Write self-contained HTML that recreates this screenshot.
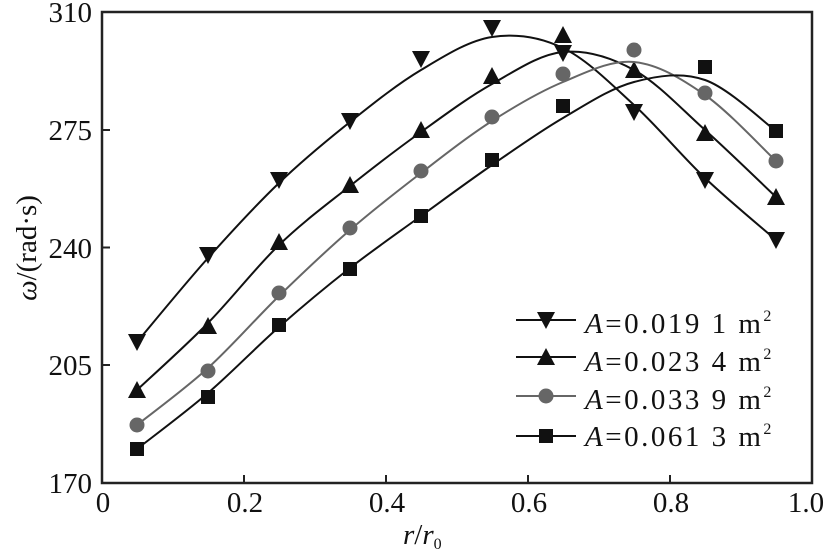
<!DOCTYPE html>
<html><head><meta charset="utf-8"><style>
body{margin:0;background:#fff}
svg text{font-family:"Liberation Serif",serif;fill:#111}
</style></head><body>
<svg id="s" width="834" height="555" viewBox="0 0 834 555" xmlns="http://www.w3.org/2000/svg">
<rect x="102" y="12" width="710" height="471" fill="none" stroke="#222" stroke-width="2.5"/>
<g stroke="#222" stroke-width="2">
<line x1="244" y1="483" x2="244" y2="475"/><line x1="386" y1="483" x2="386" y2="475"/>
<line x1="528" y1="483" x2="528" y2="475"/><line x1="670" y1="483" x2="670" y2="475"/>
<line x1="102" y1="130" x2="110" y2="130"/><line x1="102" y1="247.5" x2="110" y2="247.5"/>
<line x1="102" y1="365" x2="110" y2="365"/>
</g>
<g font-size="29" text-anchor="end">
<text x="92" y="22">310</text><text x="92" y="140">275</text>
<text x="92" y="258">240</text><text x="92" y="375">205</text><text x="92" y="493">170</text>
</g>
<g font-size="29" text-anchor="middle">
<text x="103" y="512">0</text><text x="245" y="512">0.2</text><text x="387" y="512">0.4</text>
<text x="529" y="512">0.6</text><text x="671" y="512">0.8</text><text x="806" y="512">1.0</text>
</g>
<text x="403" y="544" font-size="29"><tspan font-style="italic">r</tspan>/<tspan font-style="italic">r</tspan><tspan font-size="16" dy="5">0</tspan></text>
<text transform="translate(36,248) rotate(-90)" font-size="29" text-anchor="middle"><tspan font-style="italic">ω</tspan>/(rad·s)</text>
<g id="g"></g>
<g font-size="29" letter-spacing="2.5">
<text x="585" y="333"><tspan font-style="italic">A</tspan>=0.019 1 m<tspan font-size="16" dy="-12">2</tspan></text>
<text x="585" y="371"><tspan font-style="italic">A</tspan>=0.023 4 m<tspan font-size="16" dy="-12">2</tspan></text>
<text x="585" y="409"><tspan font-style="italic">A</tspan>=0.033 9 m<tspan font-size="16" dy="-12">2</tspan></text>
<text x="585" y="446"><tspan font-style="italic">A</tspan>=0.061 3 m<tspan font-size="16" dy="-12">2</tspan></text>
</g>
</svg>
<script>
var X=[137,208,279,350,421,492,563,634,705,776];
var S=[
{c:"#111",m:"d",p:[342,255,180,121,59,28,53,112,180,240],
 f:[342,258,183,122,70,37,48,105,178,240],ly:320},
{c:"#111",m:"u",p:[390,326,242,185,130,76,35,70,133,197],
 f:[390,323,245,186,132,84,52,70,130,197],ly:357},
{c:"#666",m:"c",p:[425,371,293,228,171,117,74,50,93,161],
 f:[425,368,296,230,173,121,82,62,95,161],ly:396},
{c:"#111",m:"s",p:[449,397,325,269,216,160,106,null,67,131],
 f:[449,393,327,268,216,165,118,82,80,131],ly:436}];
var g=document.getElementById("g"),h="";
function mk(m,x,y,c){
 if(m=="d")return '<polygon points="'+(x-9)+','+(y-8)+' '+(x+9)+','+(y-8)+' '+x+','+(y+9)+'" fill="'+c+'"/>';
 if(m=="u")return '<polygon points="'+(x-9)+','+(y+8)+' '+(x+9)+','+(y+8)+' '+x+','+(y-9)+'" fill="'+c+'"/>';
 if(m=="c")return '<circle cx="'+x+'" cy="'+y+'" r="7.5" fill="'+c+'"/>';
 return '<rect x="'+(x-7)+'" y="'+(y-7)+'" width="14" height="14" fill="'+c+'"/>';
}
S.forEach(function(s){
 var P=X.map(function(x,i){return [x,s.f[i]]});
 var d="M"+P[0];
 for(var i=0;i<P.length-1;i++){
  var p0=P[Math.max(i-1,0)],p1=P[i],p2=P[i+1],p3=P[Math.min(i+2,P.length-1)];
  d+=" C"+(p1[0]+(p2[0]-p0[0])/6)+","+(p1[1]+(p2[1]-p0[1])/6)+" "+(p2[0]-(p3[0]-p1[0])/6)+","+(p2[1]-(p3[1]-p1[1])/6)+" "+p2;
 }
 h+='<path d="'+d+'" fill="none" stroke="'+s.c+'" stroke-width="2"/>';
 X.forEach(function(x,i){if(s.p[i]!=null)h+=mk(s.m,x,s.p[i],s.c)});
 h+='<line x1="516" y1="'+s.ly+'" x2="576" y2="'+s.ly+'" stroke="'+s.c+'" stroke-width="2"/>'+mk(s.m,546,s.ly,s.c);
});
g.innerHTML=h;
</script>
</body></html>
